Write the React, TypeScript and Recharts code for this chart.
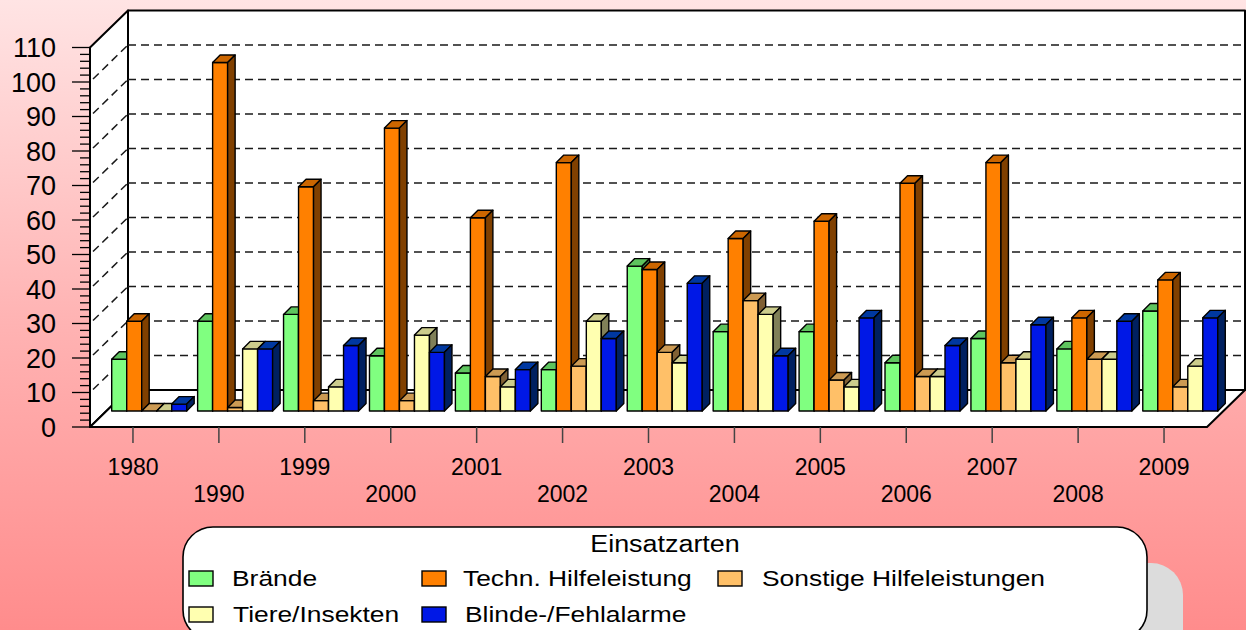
import React from "react";
import { BarChart, Bar, XAxis, YAxis, CartesianGrid } from "recharts";

// --- DATA ---
const years = ["1980", "1990", "1999", "2000", "2001", "2002", "2003", "2004", "2005", "2006", "2007", "2008", "2009"];
const braende = [15, 26, 28, 16, 11, 12, 42, 23, 23, 14, 21, 18, 29];
const techn = [26, 101, 65, 82, 56, 72, 41, 50, 55, 66, 72, 27, 38];
const sonstige = [0, 1, 3, 3, 10, 13, 17, 32, 9, 10, 14, 15, 7];
const tiere = [0, 18, 7, 22, 7, 26, 14, 28, 7, 10, 15, 15, 13];
const blinde = [2, 18, 19, 17, 12, 21, 37, 16, 27, 19, 25, 26, 27];
const yMajorTicks = [0, 10, 20, 30, 40, 50, 60, 70, 80, 90, 100, 110];

const series = [
  { key: "braende", name: "Brände", values: braende, front: "#80FF80", top: "#5EC45E", side: "#408040" },
  { key: "techn", name: "Techn. Hilfeleistung", values: techn, front: "#FF8000", top: "#CC6600", side: "#804000" },
  { key: "sonstige", name: "Sonstige Hilfeleistungen", values: sonstige, front: "#FFC068", top: "#CC9A53", side: "#806034" },
  { key: "tiere", name: "Tiere/Insekten", values: tiere, front: "#FFFFB0", top: "#CCCC8C", side: "#808058" },
  { key: "blinde", name: "Blinde-/Fehlalarme", values: blinde, front: "#0018E6", top: "#0038A0", side: "#002060" },
];

const data = years.map((year, i) => {
  const row: Record<string, any> = { year };
  series.forEach((s) => (row[s.key] = s.values[i]));
  return row;
});

// minor ticks every 2 units between the labelled ones
const yTicks = yMajorTicks.flatMap((v) => (v === 110 ? [v] : [v, v + 2, v + 4, v + 6, v + 8]));

// --- LAYOUT (bar plane + oblique offsets of front / back planes) ---
const W = 1246;
const H = 630;
const PL = 105;
const PR = 1222;
const PT = 31.5;
const PB = 411;
const FDX = -15; // front plane
const FDY = 16;
const BDX = 23; // back wall
const BDY = -21;
const D = 7.5; // bar depth
const YW = 60;
const XH = 30;
const FONT = "'Liberation Sans', Arial, sans-serif";
const PX_PER_UNIT = (PB - PT) / 110;

const Bar3D = (props: any) => {
  const { x, y, width: w, height: h, s } = props;
  if (x == null || y == null) return null;
  const st = { stroke: "#000", strokeWidth: 1.4, strokeLinejoin: "round" as const };
  return (
    <g>
      <rect x={x} y={y} width={w} height={Math.max(h, 0)} fill={s.front} {...st} />
      <polygon
        points={`${x},${y} ${x + D},${y - D} ${x + w + D},${y - D} ${x + w},${y}`}
        fill={s.top}
        {...st}
      />
      <polygon
        points={`${x + w},${y} ${x + w + D},${y - D} ${x + w + D},${y + h - D} ${x + w},${y + h}`}
        fill={s.side}
        {...st}
      />
    </g>
  );
};

const gridLine = (p: any) => {
  const v = Math.round((PB - p.y1) / PX_PER_UNIT);
  if (v % 10 !== 0 || v === 0 || v === 110) return <g key={p.key} />;
  const dash = { stroke: "#1a1a1a", strokeWidth: 1.5, strokeDasharray: "8 5" };
  return (
    <g key={p.key}>
      <line x1={p.x1 + BDX} y1={p.y1 + BDY} x2={p.x2 + BDX} y2={p.y2 + BDY} {...dash} />
      <line x1={p.x1 + FDX + 3} y1={p.y1 + FDY - 3} x2={p.x1 + BDX} y2={p.y1 + BDY} {...dash} />
    </g>
  );
};

const YTick = (props: any) => {
  const { y, payload } = props;
  const v = payload.value;
  const major = v % 10 === 0;
  const fy = y + FDY;
  const fx = PL + FDX;
  return (
    <g>
      <line x1={major ? fx - 18 : fx - 10} y1={fy} x2={fx} y2={fy} stroke="#000" strokeWidth={1.3} />
      {major && (
        <text x={56} y={fy + 9.5} textAnchor="end" fontFamily={FONT} fontSize={27} fill="#000">
          {v}
        </text>
      )}
    </g>
  );
};

const XTick = (props: any) => {
  const { x, payload, index } = props;
  const fx = x + FDX;
  return (
    <g>
      <line x1={fx} y1={PB + FDY} x2={fx} y2={PB + FDY + 16} stroke="#444" strokeWidth={1.5} />
      <text x={fx} y={index % 2 === 0 ? PB + 64 : PB + 91} textAnchor="middle" fontFamily={FONT} fontSize={23} fill="#000">
        {payload.value}
      </text>
    </g>
  );
};

const Walls = () => {
  const st = { fill: "#fff", stroke: "#000", strokeWidth: 2, strokeLinejoin: "round" as const };
  return (
    <svg width={W} height={H} style={{ position: "absolute", left: 0, top: 0 }}>
      <rect x={PL + BDX} y={PT + BDY} width={PR - PL} height={PB - PT} {...st} />
      <polygon
        points={`${PL + FDX},${PB + FDY} ${PL + FDX},${PT + FDY} ${PL + BDX},${PT + BDY} ${PL + BDX},${PB + BDY}`}
        {...st}
      />
      <polygon
        points={`${PL + FDX},${PB + FDY} ${PR + FDX},${PB + FDY} ${PR + BDX},${PB + BDY} ${PL + BDX},${PB + BDY}`}
        {...st}
      />
    </svg>
  );
};

const legendPos = [
  { sx: 189, tx: 232, row: 0 },
  { sx: 422, tx: 463, row: 0 },
  { sx: 718, tx: 762, row: 0 },
  { sx: 189, tx: 233, row: 1 },
  { sx: 422, tx: 465, row: 1 },
];

const LegendBox = () => (
  <svg width={W} height={H} style={{ position: "absolute", left: 0, top: 0 }}>
    <rect x={219} y={563} width={964} height={113} rx={32} fill="#DCDCDC" />
    <rect x={183} y={527} width={964} height={113} rx={30} fill="#fff" stroke="#000" strokeWidth={1.6} />
    <text transform="translate(665,552) scale(1.17,1)" textAnchor="middle" fontFamily={FONT} fontSize={23} fill="#000">
      Einsatzarten
    </text>
    {series.map((s, i) => {
      const p = legendPos[i];
      const sy = p.row === 0 ? 571 : 607;
      return (
        <g key={s.key}>
          <rect x={p.sx} y={sy} width={24} height={15} fill={s.front} stroke="#000" strokeWidth={1.4} />
          <text transform={`translate(${p.tx},${sy + 15}) scale(1.2,1)`} fontFamily={FONT} fontSize={22} fill="#000">
            {s.name}
          </text>
        </g>
      );
    })}
  </svg>
);

const App: React.FC = () => {
  return (
    <div
      style={{
        position: "absolute",
        left: 0,
        top: 0,
        width: W,
        height: H,
        overflow: "hidden",
        background: "linear-gradient(180deg, #FFE4E4 0%, #FFB4B4 50%, #FF8C8C 100%)",
      }}
    >
      <Walls />
      <div style={{ position: "absolute", left: 0, top: 0 }}>
        <BarChart
          width={W}
          height={H}
          data={data}
          margin={{ top: PT, right: W - PR, bottom: H - PB - XH, left: PL - YW }}
          barCategoryGap={6.7}
          barGap={0}
        >
          <CartesianGrid horizontal={gridLine} vertical={false} />
          <XAxis dataKey="year" height={XH} axisLine={false} tickLine={false} interval={0} tick={<XTick />} />
          <YAxis
            type="number"
            domain={[0, 110]}
            ticks={yTicks}
            width={YW}
            axisLine={false}
            tickLine={false}
            interval={0}
            tick={<YTick />}
          />
          {series.map((s) => (
            <Bar
              key={s.key}
              dataKey={s.key}
              name={s.name}
              fill={s.front}
              isAnimationActive={false}
              shape={(p: any) => <Bar3D {...p} s={s} />}
            />
          ))}
        </BarChart>
      </div>
      <svg width={W} height={H} style={{ position: "absolute", left: 0, top: 0, pointerEvents: "none" }}>
        <line x1={PL + FDX} y1={PT + FDY} x2={PL + FDX} y2={PB + FDY} stroke="#000" strokeWidth={2} />
      </svg>
      <LegendBox />
    </div>
  );
};

export default App;
